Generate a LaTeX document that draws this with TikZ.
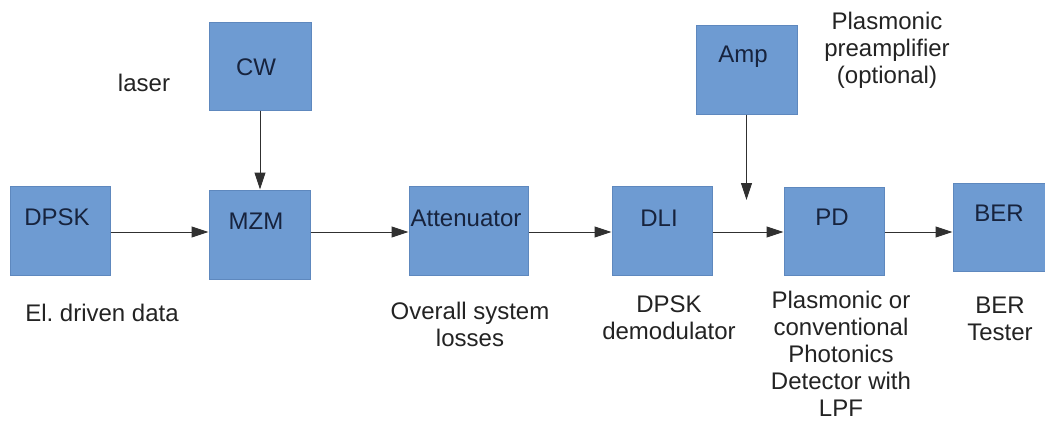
\documentclass[tikz,border=0pt]{standalone}
\usepackage{fontspec}
\setmainfont{Liberation Sans}
\usetikzlibrary{arrows.meta}
\definecolor{boxfill}{HTML}{6E9BD2}
\definecolor{boxedge}{HTML}{5E88BE}
\definecolor{boxtext}{HTML}{17233D}
\definecolor{labtext}{HTML}{232323}
\definecolor{wire}{HTML}{303030}
\tikzset{
  block/.style={draw=boxedge, line width=1pt, fill=boxfill, inner sep=0pt},
  btext/.style={text=boxtext, font=\fontsize{24}{27}\selectfont, inner sep=0pt, anchor=center},
  % multi-line captions: the base anchor sits on the last line's baseline
  ltext/.style={text=labtext, font=\fontsize{24}{27}\selectfont, inner sep=0pt, align=center, anchor=base},
  arr/.style={draw=wire, line width=1pt, -{Triangle[length=17pt,width=11pt]}}
}
\begin{document}
\frenchspacing
\begin{tikzpicture}[x=1pt,y=-1pt]
\useasboundingbox (0,0) rectangle (1045,421);
\fill[white] (0,0) rectangle (1045,421);

% blocks
\node[block, minimum width=100pt, minimum height=89pt] (dpsk) at (60,230.5) {};
\node[block, minimum width=101pt, minimum height=89pt] (mzm)  at (259.5,234.5) {};
\node[block, minimum width=102pt, minimum height=88pt] (cw)   at (260,66) {};
\node[block, minimum width=119pt, minimum height=89pt] (att)  at (468.5,230.5) {};
\node[block, minimum width=100pt, minimum height=89pt] (dli)  at (662,230.5) {};
\node[block, minimum width=101pt, minimum height=89pt] (amp)  at (746.5,69.5) {};
\node[block, minimum width=100pt, minimum height=88pt] (pd)   at (834,231) {};
\node[block, minimum width=100pt, minimum height=88pt] (ber)  at (1003,227) {};

% block captions
\node[btext] (dpskt) at (57,217) {DPSK};
\node[btext] (mzmt)  at (256,221) {MZM};
\node[btext] (cwt)   at (256,67) {CW};
\node[btext] (attt)  at (466,218) {Attenuator};
\node[btext] (dlit)  at (659,218) {DLI};
\node[btext] (ampt)  at (743,57) {Amp};
\node[btext] (pdt)   at (832,217) {PD};
\node[btext] (bert)  at (999,213) {BER};

% descriptions
\node[ltext] (lasert) at (144,91) {laser};
\node[ltext] (datat)  at (102,321) {El. driven data};
\node[ltext] (losst)  at (470,346) {Overall system\\losses};
\node[ltext] (demt)   at (669,339) {DPSK\\demodulator};
\node[ltext] (pdl)    at (841,416) {Plasmonic or\\conventional\\Photonics\\Detector with\\LPF};
\node[ltext] (bertl)  at (1000,340) {BER\\Tester};
\node[ltext] (ampl)   at (887,83) {Plasmonic\\preamplifier\\(optional)};

% signal path, all on one horizontal rail
\coordinate (rail) at (0,232);
\coordinate (ampend) at (746.5,200);
\draw[arr] (dpsk.east |- rail) -- (mzm.west |- rail);
\draw[arr] (cw.south) -- (cw.south |- mzm.north);
\draw[arr] (mzm.east |- rail) -- (att.west |- rail);
\draw[arr] (att.east |- rail) -- (dli.west |- rail);
\draw[arr] (dli.east |- rail) -- (pd.west |- rail);
\draw[arr] (pd.east |- rail) -- (ber.west |- rail);
\draw[arr] (amp.south) -- (ampend);
\end{tikzpicture}
\end{document}
